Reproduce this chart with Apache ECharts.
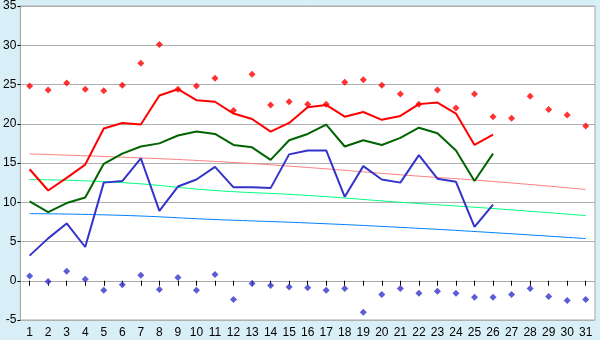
<!DOCTYPE html>
<html>
<head>
<meta charset="utf-8">
<script src="https://cdn.jsdelivr.net/npm/echarts@6/dist/echarts.min.js"></script>
<style>
    html, body { margin: 0; padding: 0; background: #d9eff7; }
    #chart { width: 600px; height: 340px; }
</style>
</head>
<body>
<div id="chart"></div>
<script>
// days of the month
var days = [];
for (var d = 1; d <= 31; d++) days.push(String(d));

var redLine = [14.2, 11.5, 13.1, 14.8, 19.4, 20.1, 19.9, 23.6, 24.4, 23.0, 22.8, 21.3, 20.6, 19.0, 20.1, 22.1, 22.4, 20.9, 21.5, 20.5, 21.0, 22.5, 22.7, 21.3, 17.3, 18.6, null, null, null, null, null];
var greenLine = [10.1, 8.75, 9.9, 10.6, 14.9, 16.2, 17.1, 17.5, 18.5, 19.0, 18.7, 17.3, 17.0, 15.4, 17.9, 18.7, 19.9, 17.1, 17.9, 17.3, 18.2, 19.5, 18.8, 16.6, 12.7, 16.2, null, null, null, null, null];
var blueLine = [3.2, 5.4, 7.3, 4.3, 12.5, 12.7, 15.6, 8.9, 12.0, 12.9, 14.5, 11.9, 11.9, 11.8, 16.1, 16.6, 16.6, 10.7, 14.6, 12.9, 12.5, 16.0, 13.0, 12.6, 6.85, 9.7, null, null, null, null, null];
var redPoints = [24.8, 24.3, 25.2, 24.4, 24.2, 24.9, 27.7, 30.1, 24.4, 24.8, 25.8, 21.7, 26.3, 22.4, 22.8, 22.5, 22.5, 25.3, 25.6, 24.9, 23.8, 22.5, 24.3, 22.0, 23.8, 20.9, 20.7, 23.5, 21.8, 21.1, 19.7];
var bluePoints = [0.6, -0.1, 1.2, 0.2, -1.2, -0.5, 0.7, -1.1, 0.4, -1.2, 0.8, -2.4, -0.35, -0.6, -0.8, -0.9, -1.2, -1.0, -4.0, -1.75, -1.0, -1.6, -1.35, -1.6, -2.1, -2.1, -1.75, -1.0, -2.0, -2.5, -2.4];

// trend curves, read at a few days
var trendDays = ['1', '6', '11', '16', '21', '26', '31'];
var redTrend = [16.16, 15.74, 15.2, 14.43, 13.5, 12.65, 11.63];
var greenTrend = [12.9, 12.5, 11.5, 10.87, 10.0, 9.2, 8.3];
var blueTrend = [8.55, 8.33, 7.8, 7.36, 6.8, 6.13, 5.37];

var yTicks = [-5, 0, 5, 10, 15, 20, 25, 30, 35];

function pairs(xs, ys) {
    var out = [];
    for (var i = 0; i < xs.length; i++) out.push([xs[i], ys[i]]);
    return out;
}

var myChart = echarts.init(document.getElementById('chart'), null, { renderer: 'canvas' });

function lineSeries(data, color) {
    return {
        type: 'line',
        data: data,
        showSymbol: false,
        connectNulls: false,
        lineStyle: { color: color, width: 2 },
        itemStyle: { color: color },
        animation: false
    };
}

function trendSeries(data, color) {
    return {
        type: 'line',
        data: data,
        smooth: true,
        showSymbol: false,
        lineStyle: { color: color, width: 1 },
        itemStyle: { color: color },
        z: 1,
        animation: false
    };
}

function pointSeries(data, color) {
    return {
        type: 'scatter',
        data: data,
        symbol: 'diamond',
        symbolSize: 7,
        itemStyle: { color: color },
        z: 5,
        animation: false
    };
}

var option = {
    backgroundColor: '#d9eff7',
    textStyle: { fontFamily: 'Liberation Sans' },
    grid: {
        left: 20,
        right: 5,
        top: 5,
        bottom: 20,
        show: true,
        backgroundColor: '#ffffff',
        borderColor: '#a8a8a8',
        borderWidth: 1
    },
    xAxis: {
        type: 'category',
        data: days,
        boundaryGap: true,
        axisLine: { show: true, lineStyle: { color: '#a8a8a8' } },
        axisTick: { show: true, alignWithLabel: true, length: 5, lineStyle: { color: '#000000' } },
        axisLabel: { interval: 0, color: '#000000', fontFamily: 'Liberation Sans', fontSize: 12, margin: 7 },
        splitLine: { show: false }
    },
    yAxis: {
        type: 'value',
        min: yTicks[0],
        max: yTicks[yTicks.length - 1],
        interval: 5,
        axisLine: { show: true, lineStyle: { color: '#a8a8a8' } },
        axisTick: { show: true, length: 3, lineStyle: { color: '#000000' } },
        axisLabel: { color: '#000000', fontFamily: 'Liberation Sans', fontSize: 12, margin: 4 },
        splitLine: { show: true, lineStyle: { color: '#b0b0b0', width: 1 } }
    },
    series: [
        trendSeries(pairs(trendDays, redTrend), '#ff8080'),
        trendSeries(pairs(trendDays, greenTrend), '#00ff80'),
        trendSeries(pairs(trendDays, blueTrend), '#0080ff'),
        lineSeries(redLine, '#ff0000'),
        lineSeries(greenLine, '#006400'),
        lineSeries(blueLine, '#3333cc'),
        pointSeries(redPoints, '#ff0000'),
        pointSeries(bluePoints, '#3333cc')
    ]
};

myChart.setOption(option);
window.onresize = myChart.resize;
</script>
</body>
</html>
